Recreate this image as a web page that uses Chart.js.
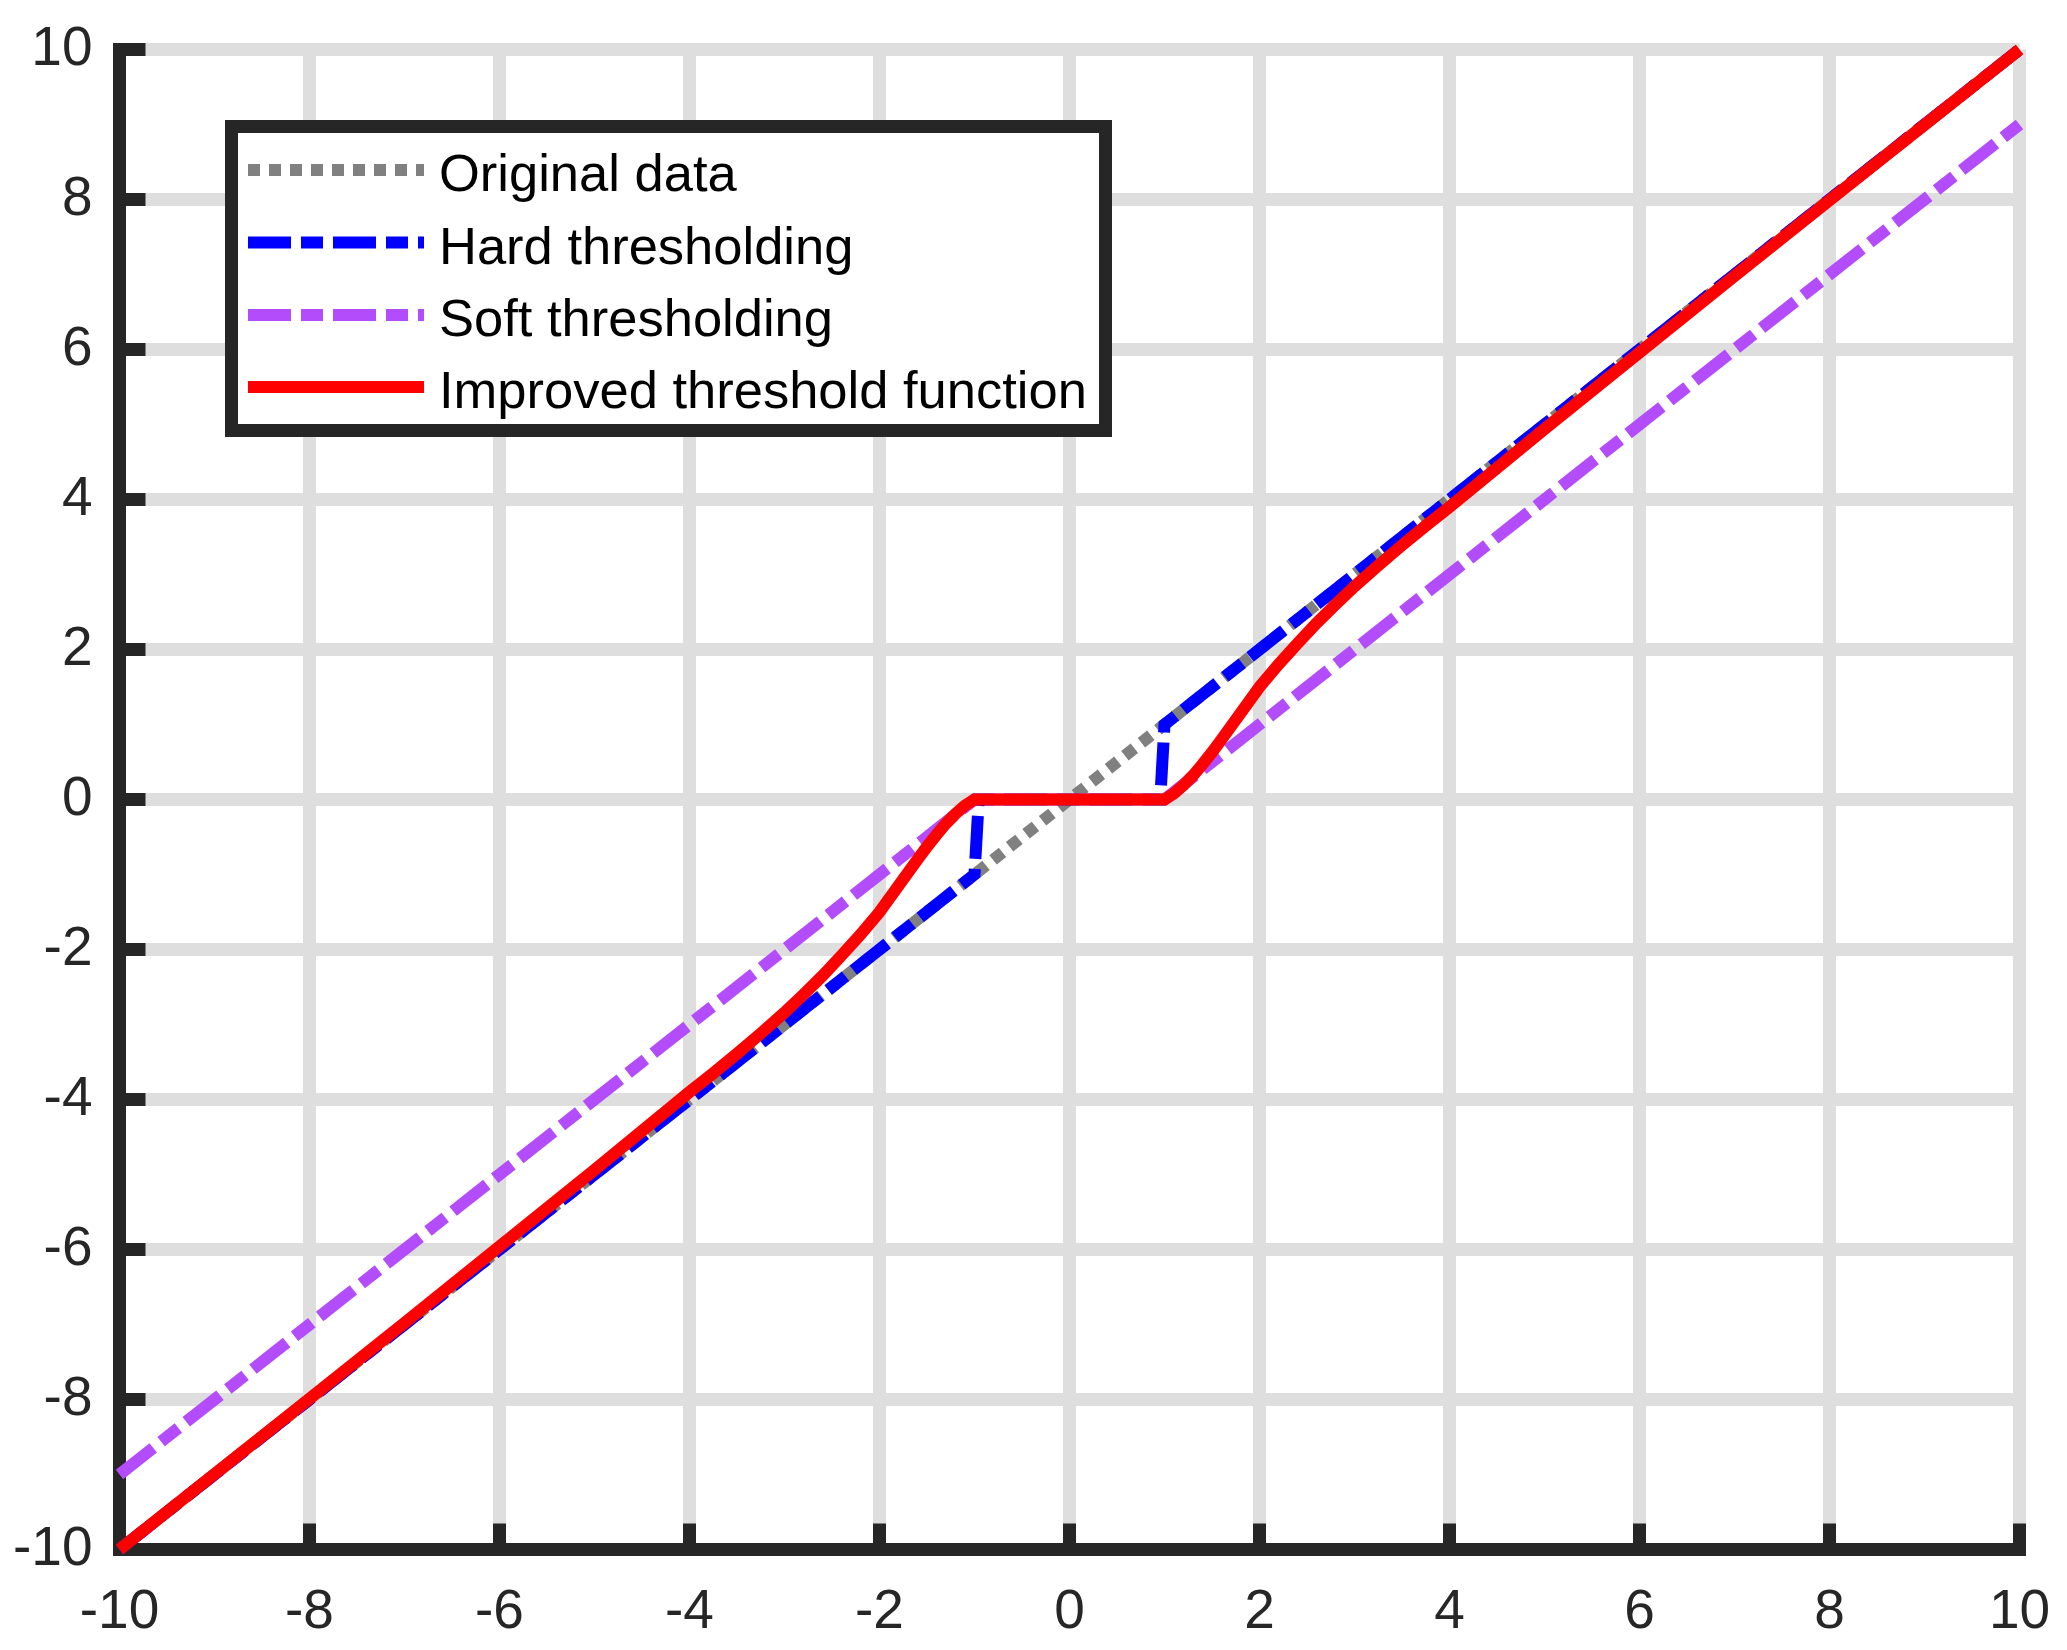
<!DOCTYPE html>
<html>
<head>
<meta charset="utf-8">
<script src="https://cdn.jsdelivr.net/npm/chart.js@4.4.0/dist/chart.umd.min.js"></script>
<style>
html, body { margin: 0; padding: 0; background: #ffffff; }
#wrap { width: 2067px; height: 1650px; position: relative; }
</style>
</head>
<body>
<div id="wrap"><canvas id="c" width="2067" height="1650"></canvas></div>
<script>
// ---- data ----
const seriesNames = ["Original data", "Hard thresholding", "Soft thresholding", "Improved threshold function"];

const xOriginal = [-10, 10];
const yOriginal = [-10, 10];

const xHard = [-10, -1, -0.955, 0.955, 1, 10];
const yHard = [-10, -1, 0, 0, 1, 10];

const xSoft = [-10, -1, 1, 10];
const ySoft = [-9, 0, 0, 9];

const xImproved = [-10, -8, -7, -6, -5, -4.5, -4, -3.75, -3.5, -3.25, -3, -2.8, -2.6, -2.4, -2.2, -2, -1.8, -1.6, -1.5, -1.4, -1.3, -1.2, -1.1, -1,
                   1, 1.1, 1.2, 1.3, 1.4, 1.5, 1.6, 1.8, 2, 2.2, 2.4, 2.6, 2.8, 3, 3.25, 3.5, 3.75, 4, 4.5, 5, 6, 7, 8, 10];
const yImproved = [-10, -7.99, -6.98, -5.96, -4.94, -4.42, -3.9, -3.65, -3.39, -3.12, -2.84, -2.6, -2.35, -2.08, -1.8, -1.5, -1.15, -0.8, -0.63, -0.47, -0.32, -0.19, -0.08, 0,
                   0, 0.08, 0.19, 0.32, 0.47, 0.63, 0.8, 1.15, 1.5, 1.8, 2.08, 2.35, 2.6, 2.84, 3.12, 3.39, 3.65, 3.9, 4.42, 4.94, 5.96, 6.98, 7.99, 10];

const xTickValues = [-10, -8, -6, -4, -2, 0, 2, 4, 6, 8, 10];
const yTickValues = [-10, -8, -6, -4, -2, 0, 2, 4, 6, 8, 10];

// ---- styles ----
const colors = ["#808080", "#0000ff", "rgb(179,76,250)", "#ff0000"];
const dashes = [[12, 9], [43, 10, 22, 10], [43, 10, 22, 10], []];
const LW = 12;
const AXIS_COLOR = "#262626";
const GRID_COLOR = "#dedede";

function pts(xs, ys) { return xs.map((x, i) => ({ x: x, y: ys[i] })); }

function ds(idx, xs, ys) {
  return {
    label: seriesNames[idx],
    data: pts(xs, ys),
    borderColor: colors[idx],
    backgroundColor: colors[idx],
    borderWidth: LW,
    borderDash: dashes[idx],
    borderCapStyle: "butt",
    pointRadius: 0,
    pointHoverRadius: 0,
    pointBorderWidth: 0,
    tension: 0,
    fill: false,
    clip: false
  };
}

function zeroPad(scale) {
  scale.paddingLeft = 0; scale.paddingRight = 0;
  scale.paddingTop = 0; scale.paddingBottom = 0;
}

const axesPlugin = {
  id: "axesPlugin",
  beforeDatasetsDraw(chart) {
    const ctx = chart.ctx;
    const xs = chart.scales.x, ys = chart.scales.y;
    const x0 = xs.getPixelForValue(-10), x1 = xs.getPixelForValue(10);
    const y0 = ys.getPixelForValue(-10), y1 = ys.getPixelForValue(10);
    ctx.save();
    ctx.strokeStyle = AXIS_COLOR;
    ctx.lineWidth = 13;
    ctx.lineCap = "butt";
    ctx.beginPath();
    ctx.moveTo(x0, y1 - 6.5); ctx.lineTo(x0, y0 + 6.5);
    ctx.moveTo(x0 - 6.5, y0); ctx.lineTo(x1 + 6.5, y0);
    ctx.stroke();
    ctx.beginPath();
    xTickValues.forEach(v => {
      const p = xs.getPixelForValue(v);
      ctx.moveTo(p, y0); ctx.lineTo(p, y0 - 26);
    });
    yTickValues.forEach(v => {
      const p = ys.getPixelForValue(v);
      ctx.moveTo(x0, p); ctx.lineTo(x0 + 26, p);
    });
    ctx.stroke();
    ctx.restore();
  },
  afterDatasetsDraw(chart) {
    const ctx = chart.ctx;
    ctx.save();
    // legend box
    const bx = 231.5, by = 126.5, bw = 874, bh = 304;
    ctx.fillStyle = "#ffffff";
    ctx.fillRect(bx, by, bw, bh);
    ctx.strokeStyle = AXIS_COLOR;
    ctx.lineWidth = 13;
    ctx.setLineDash([]);
    ctx.strokeRect(bx, by, bw, bh);
    const rowY = [170, 242.5, 315, 387];
    ctx.font = "52.5px 'Liberation Sans', Arial, sans-serif";
    ctx.textAlign = "left";
    ctx.textBaseline = "alphabetic";
    seriesNames.forEach((name, i) => {
      ctx.beginPath();
      ctx.strokeStyle = colors[i];
      ctx.lineWidth = LW;
      ctx.lineCap = "butt";
      ctx.setLineDash(dashes[i]);
      ctx.lineDashOffset = 0;
      ctx.moveTo(248, rowY[i]);
      ctx.lineTo(424, rowY[i]);
      ctx.stroke();
      ctx.setLineDash([]);
      ctx.fillStyle = "#000000";
      ctx.fillText(name, 439, rowY[i] + 21);
    });
    ctx.restore();
  }
};

const tickFont = { family: "'Liberation Sans', Arial, sans-serif", size: 55 };

new Chart(document.getElementById("c"), {
  type: "line",
  data: {
    datasets: [
      ds(3, xImproved, yImproved),
      ds(2, xSoft, ySoft),
      ds(1, xHard, yHard),
      ds(0, xOriginal, yOriginal)
    ]
  },
  options: {
    responsive: false,
    devicePixelRatio: 1,
    animation: false,
    events: [],
    layout: { autoPadding: false, padding: { top: 49.5, right: 47.5, left: 0, bottom: 0 } },
    plugins: { legend: { display: false }, tooltip: { enabled: false } },
    scales: {
      x: {
        type: "linear",
        position: "bottom",
        min: -10, max: 10,
        afterBuildTicks(scale) { scale.ticks = xTickValues.map(v => ({ value: v })); },
        afterFit(scale) { scale.height = 100.5; zeroPad(scale); },
        ticks: { font: tickFont, color: AXIS_COLOR, padding: 30, maxRotation: 0, autoSkip: false,
                 callback: v => String(v) },
        grid: { color: GRID_COLOR, lineWidth: 13, drawTicks: false },
        border: { display: false }
      },
      y: {
        type: "linear",
        position: "left",
        min: -10, max: 10,
        afterBuildTicks(scale) { scale.ticks = yTickValues.map(v => ({ value: v })); },
        afterFit(scale) { scale.width = 119.5; zeroPad(scale); },
        ticks: { font: tickFont, color: AXIS_COLOR, padding: 27, autoSkip: false,
                 callback: v => String(v) },
        grid: { color: GRID_COLOR, lineWidth: 13, drawTicks: false },
        border: { display: false }
      }
    }
  },
  plugins: [axesPlugin]
});
</script>
</body>
</html>
